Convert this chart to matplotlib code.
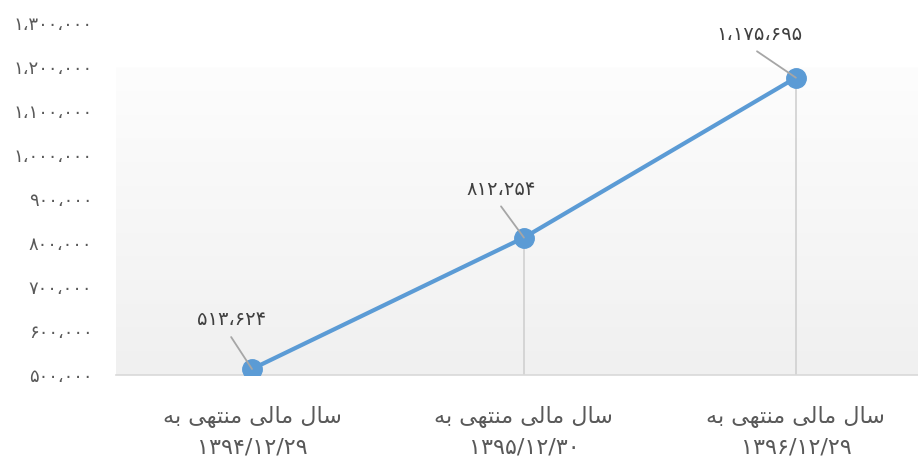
import matplotlib
matplotlib.use('Agg')
import matplotlib.pyplot as plt
import numpy as np

# سال مالی منتهی به  (presentation forms, visual order)
cat_title = '\uFEEA\uFE91 \uFEF0\uFEEC\uFE98\uFEE8\uFEE3 \uFEF0\uFEDF\uFE8E\uFEE3 \uFEDD\uFE8E\uFEB3'
dates = ['۱۳۹۴/۱۲/۲۹', '۱۳۹۵/۱۲/۳۰', '۱۳۹۶/۱۲/۲۹']
values = [513624, 812254, 1175695]
y_ticks = [500000, 600000, 700000, 800000, 900000, 1000000, 1100000, 1200000, 1300000]

PERSIAN = str.maketrans('0123456789,', '۰۱۲۳۴۵۶۷۸۹،')


def fa(n):
    return f'{n:,}'.translate(PERSIAN)


blue = '#5b9bd5'
grey_txt = '#595959'

fig = plt.figure(figsize=(9.18, 4.62), dpi=100)
ax = fig.add_axes([116 / 918, 1 - 375 / 462, 802 / 918, (375 - 23) / 462])

x = np.arange(len(values))

# gradient background of the plot area (starts just below the top tick)
grad = np.linspace(0.0, 1.0, 256).reshape(-1, 1)
ax.imshow(grad, aspect='auto', cmap=matplotlib.colors.LinearSegmentedColormap.from_list(
    'bg', ['#fdfdfd', '#f0f0f0']), extent=(-0.5, 2.449, 500000, 1198000), zorder=0,
    origin='upper', vmin=0, vmax=1)
ax.set_xlim(-0.5, 2.449)
ax.set_ylim(500000, 1300000)

# drop lines
for xi, v in zip(x, values):
    ax.plot([xi, xi], [500000, v], color='#d0d0d0', lw=1.2, zorder=1)

ax.plot(x, values, color=blue, lw=3, marker='o', markersize=14, zorder=3)

# leader lines and data labels (offsets in points)
leader_ends = [(-15, 23), (-16.5, 22.5), (-28, 19)]
label_pos = [(-14.5, 36), (-16.5, 34.5), (-26, 31)]
for xi, v, le, lp in zip(x, values, leader_ends, label_pos):
    ax.annotate('', xy=(xi, v), xytext=le, textcoords='offset points',
                arrowprops=dict(arrowstyle='-', color='#a6a6a6', lw=1.3,
                                shrinkA=0, shrinkB=0), zorder=4)
    ax.annotate(fa(v), xy=(xi, v), xytext=lp, textcoords='offset points',
                ha='center', va='center', fontsize=14, color='#404040', zorder=4)

ax.set_yticks(y_ticks)
ax.set_yticklabels([fa(t) for t in y_ticks], fontsize=13, color=grey_txt)
ax.set_xticks(x)
ax.set_xticklabels([cat_title + '\n' + d for d in dates], fontsize=16, color=grey_txt,
                   linespacing=1.6)
ax.tick_params(length=0, axis='both')
ax.tick_params(axis='x', pad=22)
ax.tick_params(axis='y', pad=17)

for s in ['top', 'right', 'left']:
    ax.spines[s].set_visible(False)
ax.spines['bottom'].set_color('#d9d9d9')
ax.spines['bottom'].set_linewidth(1.2)

fig.savefig('out.png', dpi=100)
